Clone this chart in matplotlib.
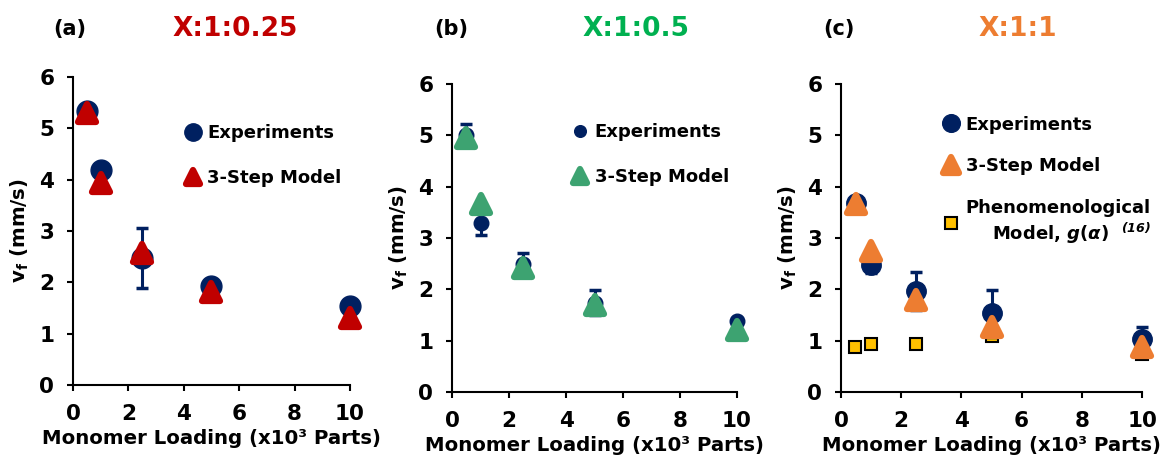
import matplotlib
matplotlib.use("Agg")
import matplotlib.pyplot as plt
from matplotlib.markers import MarkerStyle

plt.rcParams['font.family'] = ['DejaVu Sans']
plt.rcParams['font.weight'] = 'bold'
plt.rcParams['axes.labelweight'] = 'bold'
plt.rcParams['mathtext.fontset'] = 'custom'
plt.rcParams['mathtext.rm'] = 'DejaVu Sans:bold'
plt.rcParams['mathtext.bf'] = 'DejaVu Sans:bold'
plt.rcParams['mathtext.it'] = 'DejaVu Sans:italic:bold'
plt.rcParams['mathtext.bfit'] = 'DejaVu Sans:italic:bold'

# ---------------- data ----------------
loading = [0.5, 1, 2.5, 5, 10]

exp_a = [5.33, 4.19, 2.47, 1.92, 1.53]
err_a = [0.05, 0.05, 0.58, 0.14, 0.05]
mod_a = [5.30, 3.93, 2.57, 1.82, 1.30]

exp_b = [5.00, 3.30, 2.49, 1.74, 1.38]
err_b = [0.22, 0.25, 0.22, 0.24, 0.05]
mod_b = [4.94, 3.67, 2.41, 1.69, 1.20]

exp_c = [3.69, 2.47, 1.97, 1.53, 1.04]
err_c = [0.10, 0.15, 0.37, 0.45, 0.22]
mod_c = [3.67, 2.75, 1.79, 1.27, 0.88]
phen_loading = [0.48, 1.0, 2.5, 5.0, 10.0]
phen_c = [0.88, 0.94, 0.94, 1.10, 0.75]

panel_tags = ["(a)", "(b)", "(c)"]
panel_titles = ["X:1:0.25", "X:1:0.5", "X:1:1"]
xticks = [0, 2, 4, 6, 8, 10]
yticks = [0, 1, 2, 3, 4, 5, 6]
xlabel = "Monomer Loading (x10³ Parts)"
ylabel = r"v$_\mathrm{f}$ (mm/s)"
labels = ["Experiments", "3-Step Model",
          "Phenomenological\n" + r"Model, $g(\alpha)\ \ ^{\mathbfit{(16)}}$"]

# ---------------- style ----------------
navy = "#002060"
title_colors = ["#C00000", "#00B050", "#ED7D31"]
model_colors = ["#C00000", "#3DA371", "#ED7D31"]
square_color = "#FFC000"

fig = plt.figure(figsize=(11.6, 4.57), dpi=100)
positions = [[0.0629, 0.1575, 0.2388, 0.674],
             [0.3897, 0.1422, 0.2456, 0.674],
             [0.7250, 0.1422, 0.2595, 0.674]]
exp_sizes = [15, 10.5, 14]
leg_pos = [(0.40, 0.848), (0.418, 0.873), (0.336, 0.897)]
leg_spacing = [1.5, 1.5, 1.3]
leg_scale = [1.2, 1.25, 1.1]

tri = MarkerStyle('^', joinstyle='round')

datasets = [(exp_a, err_a, mod_a), (exp_b, err_b, mod_b), (exp_c, err_c, mod_c)]

for i, (exp, err, mod) in enumerate(datasets):
    ax = fig.add_axes(positions[i])
    if i == 2:
        hs, = ax.plot(phen_loading, phen_c, linestyle='none', marker='s',
                      markersize=9, markerfacecolor=square_color,
                      markeredgecolor='black', markeredgewidth=1.5, zorder=2,
                      clip_on=False)
    eb = ax.errorbar(loading, exp, yerr=err, fmt='none', ecolor=navy,
                     elinewidth=2.2, capsize=4.5, capthick=2.5, zorder=3)
    for art in eb.lines[1] + eb.lines[2]:
        art.set_clip_on(False)
    he, = ax.plot(loading, exp, linestyle='none', marker='o',
                  markersize=exp_sizes[i], color=navy, zorder=4, clip_on=False)
    hm, = ax.plot(loading, mod, linestyle='none', marker=tri,
                  markersize=12.5, markerfacecolor=model_colors[i],
                  markeredgecolor=model_colors[i], markeredgewidth=4.5, zorder=5,
                  clip_on=False)
    handles = [he, hm] + ([hs] if i == 2 else [])

    ax.set_xlim(0, 10)
    ax.set_ylim(0, 6)
    ax.set_xticks(xticks)
    ax.set_yticks(yticks)
    for s in ['top', 'right']:
        ax.spines[s].set_visible(False)
    for s in ['left', 'bottom']:
        ax.spines[s].set_linewidth(1.5)
    ax.tick_params(axis='both', direction='out', length=4.5, width=1.5,
                   labelsize=15.5)
    ax.tick_params(axis='y', pad=9)
    ax.tick_params(axis='x', pad=9)
    ax.set_xlabel(xlabel, fontsize=14.2, labelpad=4)
    ax.set_ylabel(ylabel, fontsize=14.2, labelpad=6)

    leg = ax.legend(handles, labels[:len(handles)], loc='upper left',
                    bbox_to_anchor=leg_pos[i], frameon=False, fontsize=13,
                    handlelength=1.0, handletextpad=0.3,
                    labelspacing=leg_spacing[i],
                    borderpad=0, borderaxespad=0, markerscale=1.0 / leg_scale[i])
    for t in leg.get_texts():
        t.set_multialignment('right')

# panel tags and titles
tag_x = [0.060, 0.389, 0.723]
title_x = [0.2026, 0.548, 0.877]
for i in range(3):
    fig.text(tag_x[i], 0.937, panel_tags[i], ha='center', va='center',
             fontsize=15, fontweight='bold', color='black')
    fig.text(title_x[i], 0.937, panel_titles[i], ha='center', va='center',
             fontsize=19, fontweight='bold', color=title_colors[i])

fig.savefig("out.png", dpi=100)
